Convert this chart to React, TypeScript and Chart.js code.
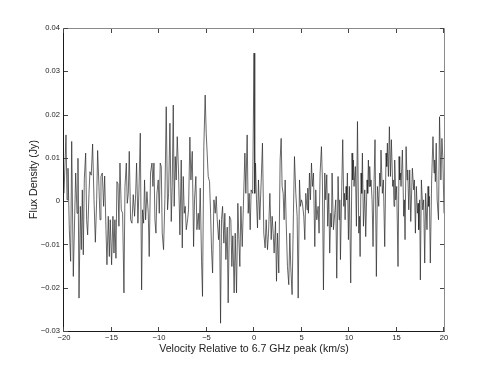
import React, { useEffect, useRef } from "react";
import { Chart, registerables } from "chart.js";

Chart.register(...registerables);

// Velocity relative to the 6.7 GHz peak (km/s)
const velocity = [
  -20.00,-19.79,-19.68,-19.58,-19.44,-19.30,-19.19,-19.02,-18.77,-18.63,
  -18.53,-18.42,-18.28,-18.18,-18.07,-17.97,-17.86,-17.72,-17.62,-17.51,
  -17.37,-17.27,-17.13,-16.99,-16.84,-16.70,-16.56,-16.46,-16.32,-16.21,
  -16.11,-15.97,-15.83,-15.72,-15.58,-15.48,-15.34,-15.23,-15.13,-14.99,
  -14.85,-14.74,-14.64,-14.53,-14.43,-14.32,-14.22,-14.11,-13.97,-13.83,
  -13.69,-13.58,-13.44,-13.34,-13.23,-13.13,-12.99,-12.85,-12.71,-12.57,
  -12.46,-12.36,-12.22,-12.11,-11.97,-11.83,-11.73,-11.62,-11.52,-11.41,
  -11.27,-11.13,-11.03,-10.89,-10.74,-10.64,-10.53,-10.43,-10.32,-10.22,
  -10.08,-9.97,-9.87,-9.76,-9.66,-9.52,-9.38,-9.24,-9.10,-8.99,
  -8.85,-8.71,-8.61,-8.50,-8.40,-8.29,-8.19,-8.08,-7.94,-7.80,
  -7.66,-7.55,-7.45,-7.34,-7.24,-7.13,-6.99,-6.89,-6.75,-6.64,
  -6.50,-6.36,-6.26,-6.12,-6.01,-5.87,-5.77,-5.66,-5.52,-5.42,
  -5.28,-5.14,-5.03,-4.93,-4.82,-4.68,-4.57,-4.47,-4.36,-4.22,
  -4.08,-3.98,-3.87,-3.73,-3.63,-3.52,-3.42,-3.31,-3.17,-3.07,
  -2.96,-2.82,-2.72,-2.58,-2.44,-2.33,-2.23,-2.09,-1.98,-1.84,
  -1.70,-1.59,-1.49,-1.38,-1.24,-1.10,-0.96,-0.86,-0.72,-0.61,
  -0.51,-0.40,-0.30,-0.14,0.00,0.08,0.16,
  0.26,0.37,0.47,0.61,0.75,0.89,1.03,1.17,1.28,1.42,
  1.53,1.67,1.81,1.91,2.02,2.12,2.26,2.37,2.47,2.61,
  2.75,2.86,2.96,3.07,3.17,3.28,3.38,3.52,3.66,3.77,
  3.87,4.01,4.15,4.26,4.40,4.54,4.65,4.79,4.89,5.00,
  5.10,5.24,5.35,5.45,5.59,5.66,5.73,5.84,5.94,6.05,
  6.15,6.26,6.40,6.50,6.61,6.75,6.85,6.96,7.10,7.20,
  7.31,7.45,7.55,7.66,7.76,7.87,7.97,8.08,8.15,8.22,
  8.36,8.50,8.61,8.71,8.85,8.96,9.03,9.10,9.24,9.34,
  9.45,9.52,9.59,9.69,9.76,9.83,9.94,10.04,10.18,10.32,
  10.39,10.46,10.53,10.67,10.78,10.89,11.03,11.10,11.17,11.27,
  11.34,11.41,11.52,11.66,11.76,11.90,11.97,12.04,12.11,12.18,
  12.25,12.32,12.43,12.53,12.64,12.74,12.88,12.99,13.13,13.23,
  13.30,13.37,13.51,13.62,13.76,13.90,13.97,14.04,14.15,14.25,
  14.36,14.46,14.60,14.67,14.74,14.81,14.92,15.02,15.16,15.27,
  15.34,15.41,15.48,15.62,15.76,15.83,15.90,16.01,16.11,16.18,
  16.29,16.39,16.50,16.67,16.81,16.88,16.99,17.09,17.20,17.27,
  17.34,17.44,17.51,17.62,17.76,17.86,17.97,18.07,18.21,18.32,
  18.39,18.46,18.56,18.70,18.84,18.95,19.02,19.09,19.18,19.28,
  19.42,19.53,19.67,19.78,19.88,20.00,
];

// Flux density (Jy)
const flux = [
  0.0018,0.0153,0.0003,0.0076,-0.0066,-0.0139,0.0138,-0.0174,0.0065,-0.0028,
  0.0099,-0.0224,-0.0012,-0.0112,0.0026,-0.0124,0.0053,0.0111,-0.0043,-0.0078,
  0.0018,0.0068,0.0060,0.0132,0.0003,-0.0095,0.0003,0.0117,0.0034,-0.0043,
  0.0057,0.0065,-0.0012,0.0058,-0.0066,-0.0147,-0.0035,-0.0128,-0.0043,-0.0147,
  -0.0035,-0.0120,-0.0043,-0.0132,0.0045,0.0040,-0.0058,0.0088,-0.0020,-0.0028,
  -0.0212,0.0034,0.0088,-0.0005,0.0018,0.0115,-0.0043,-0.0051,0.0015,-0.0035,
  0.0015,0.0088,-0.0051,0.0026,0.0157,-0.0205,-0.0020,-0.0051,0.0049,-0.0043,
  0.0022,-0.0028,-0.0128,0.0065,0.0088,0.0034,0.0088,-0.0043,-0.0074,0.0018,
  0.0049,-0.0028,0.0088,0.0080,-0.0074,-0.0112,0.0003,0.0218,-0.0020,0.0018,
  0.0180,-0.0047,0.0034,0.0222,-0.0012,0.0103,0.0049,0.0149,0.0065,-0.0078,
  0.0095,-0.0108,0.0057,-0.0028,-0.0012,-0.0066,-0.0043,-0.0020,0.0148,0.0049,
  0.0115,-0.0105,0.0003,0.0057,-0.0066,-0.0028,-0.0066,0.0030,-0.0139,-0.0220,
  0.0126,0.0245,0.0157,0.0111,0.0057,0.0045,-0.0028,-0.0112,-0.0166,0.0003,
  -0.0028,0.0011,-0.0043,-0.0089,-0.0043,-0.0282,-0.0043,-0.0012,-0.0097,-0.0028,
  -0.0135,-0.0060,-0.0235,-0.0035,-0.0043,-0.0151,-0.0080,-0.0212,-0.0074,-0.0212,
  -0.0005,-0.0089,-0.0151,-0.0012,-0.0105,0.0003,0.0111,0.0018,0.0153,-0.0028,
  0.0018,-0.0066,0.0026,0.0018,0.0342,0.0018,0.0088,
  0.0003,-0.0062,0.0049,-0.0043,0.0042,0.0134,-0.0074,-0.0108,-0.0043,-0.0112,
  -0.0074,0.0018,-0.0089,-0.0035,-0.0074,-0.0120,-0.0047,-0.0185,-0.0074,-0.0166,
  0.0095,0.0145,0.0034,0.0018,-0.0043,0.0049,-0.0043,-0.0151,-0.0193,-0.0074,
  -0.0151,-0.0216,-0.0028,0.0103,0.0018,-0.0035,-0.0224,0.0049,-0.0012,0.0003,
  -0.0005,-0.0035,-0.0089,0.0018,-0.0020,0.0030,-0.0028,0.0065,0.0003,0.0088,
  0.0034,0.0065,-0.0105,0.0026,-0.0043,-0.0012,-0.0074,0.0065,0.0126,0.0049,
  -0.0205,0.0065,0.0003,0.0061,-0.0058,0.0018,-0.0120,-0.0028,-0.0060,0.0065,
  -0.0066,-0.0028,0.0003,-0.0178,0.0057,-0.0043,0.0003,-0.0135,0.0034,0.0142,
  -0.0012,0.0018,-0.0043,0.0034,0.0003,0.0065,-0.0089,0.0034,-0.0189,0.0111,
  0.0049,0.0095,0.0034,0.0080,-0.0058,0.0184,-0.0074,-0.0035,-0.0128,0.0065,
  0.0018,0.0111,-0.0058,0.0026,-0.0082,0.0049,0.0018,0.0095,0.0034,0.0080,
  0.0034,0.0049,0.0003,-0.0105,0.0049,0.0142,-0.0174,0.0034,-0.0012,0.0065,
  0.0034,0.0118,0.0018,0.0049,-0.0105,0.0111,0.0080,0.0134,0.0057,0.0172,
  0.0057,0.0142,0.0034,0.0049,-0.0012,0.0095,0.0003,0.0034,-0.0151,0.0103,
  0.0049,0.0065,0.0034,0.0118,-0.0035,0.0003,-0.0089,0.0126,0.0049,0.0072,
  -0.0020,0.0072,-0.0047,0.0076,0.0026,0.0049,-0.0074,0.0034,-0.0028,-0.0005,
  -0.0066,0.0003,-0.0182,0.0049,-0.0020,0.0003,-0.0143,0.0018,-0.0066,0.0034,
  -0.0012,0.0011,-0.0143,0.0049,0.0149,0.0065,0.0095,0.0045,0.0134,0.0003,
  -0.0043,0.0195,0.0049,0.0145,0.0099,-0.0028,
];

const xTickValues = [-20, -15, -10, -5, 0, 5, 10, 15, 20];
const xTickLabels = ["\u221220", "\u221215", "\u221210", "\u22125", "0", "5", "10", "15", "20"];
const yTickValues = [-0.03, -0.02, -0.01, 0, 0.01, 0.02, 0.03, 0.04];
const yTickLabels = ["\u22120.03", "\u22120.02", "\u22120.01", "0", "0.01", "0.02", "0.03", "0.04"];
const xTitle = "Velocity Relative to 6.7 GHz peak (km/s)";
const yTitle = "Flux Density (Jy)";

const W = 491;
const H = 373;
const FONT = "'Liberation Sans', Arial, Helvetica, sans-serif";

const axesPlugin = {
  id: "matlabAxes",
  afterDraw(chart: any) {
    const ctx = chart.ctx as CanvasRenderingContext2D;
    const { left, right, top, bottom } = chart.chartArea;
    const xs = chart.scales.x;
    const ys = chart.scales.y;
    ctx.save();
    ctx.lineWidth = 1;
    ctx.strokeStyle = "#8a8a8a";
    ctx.beginPath();
    ctx.moveTo(left - 0.5, top + 0.5);
    ctx.lineTo(right + 0.5, top + 0.5);
    ctx.lineTo(right + 0.5, bottom + 0.5);
    ctx.stroke();
    ctx.strokeStyle = "#1a1a1a";
    ctx.beginPath();
    ctx.moveTo(left - 0.5, top + 0.5);
    ctx.lineTo(left - 0.5, bottom + 0.5);
    ctx.lineTo(right + 0.5, bottom + 0.5);
    ctx.stroke();

    const tl = 4;
    ctx.strokeStyle = "#444";
    ctx.beginPath();
    xTickValues.forEach((v) => {
      const px = Math.round(xs.getPixelForValue(v)) - 0.5;
      ctx.moveTo(px, bottom);
      ctx.lineTo(px, bottom - tl);
      ctx.moveTo(px, top + 1);
      ctx.lineTo(px, top + 1 + tl);
    });
    yTickValues.forEach((v) => {
      const py = Math.round(ys.getPixelForValue(v)) + 0.5;
      ctx.moveTo(left, py);
      ctx.lineTo(left + tl, py);
      ctx.moveTo(right, py);
      ctx.lineTo(right - tl, py);
    });
    ctx.stroke();

    ctx.fillStyle = "#222";
    ctx.font = `7.6px ${FONT}`;
    ctx.textAlign = "center";
    ctx.textBaseline = "top";
    xTickValues.forEach((v, i) => {
      ctx.fillText(xTickLabels[i], xs.getPixelForValue(v), bottom + 3);
    });
    ctx.textAlign = "right";
    ctx.textBaseline = "middle";
    yTickValues.forEach((v, i) => {
      ctx.fillText(yTickLabels[i], left - 4, ys.getPixelForValue(v));
    });

    ctx.font = `10.6px ${FONT}`;
    ctx.textAlign = "center";
    ctx.textBaseline = "alphabetic";
    ctx.fillText(xTitle, (left + right) / 2, 352);
    ctx.save();
    ctx.translate(37, (top + bottom) / 2);
    ctx.rotate(-Math.PI / 2);
    ctx.fillText(yTitle, 0, 0);
    ctx.restore();
    ctx.restore();
  },
};

export default function App() {
  const ref = useRef<HTMLCanvasElement | null>(null);
  useEffect(() => {
    if (!ref.current) return;
    const points = velocity.map((v, i) => ({ x: v, y: flux[i] }));
    const chart = new Chart(ref.current, {
      type: "line",
      data: {
        datasets: [
          {
            data: points,
            borderColor: "rgba(40,40,40,0.78)",
            borderWidth: 0.9,
            pointRadius: 0,
            tension: 0,
            fill: false,
          },
        ],
      },
      options: {
        animation: false,
        responsive: false,
        devicePixelRatio: 1,
        parsing: false,
        layout: { padding: { left: 64, top: 28, right: W - 444, bottom: H - 331 } },
        plugins: { legend: { display: false }, tooltip: { enabled: false } },
        scales: {
          x: { type: "linear", min: -20, max: 20, display: false },
          y: { type: "linear", min: -0.03, max: 0.04, display: false },
        },
      },
      plugins: [axesPlugin],
    });
    return () => chart.destroy();
  }, []);
  return (
    <div style={{ position: "absolute", left: 0, top: 0, width: W, height: H, background: "#fff" }}>
      <canvas ref={ref} width={W} height={H} />
    </div>
  );
}
